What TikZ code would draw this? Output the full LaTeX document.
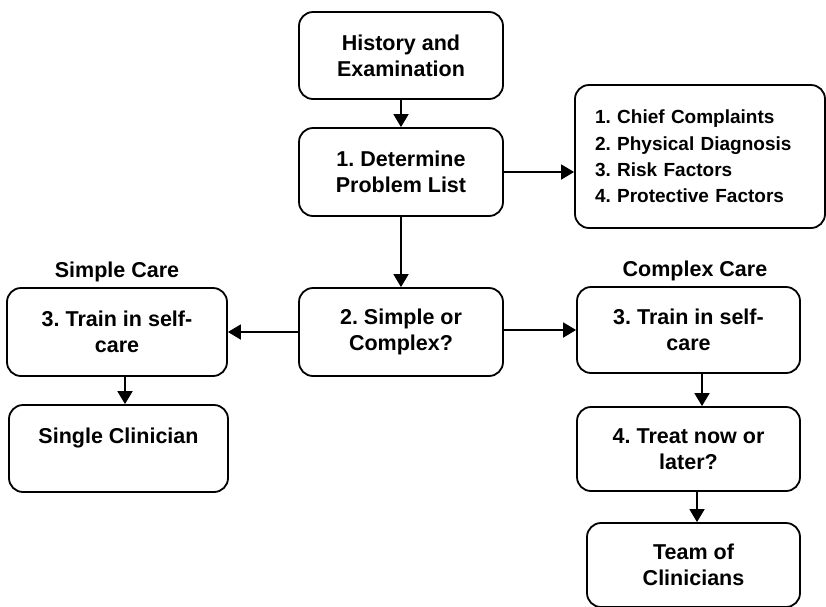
\documentclass[tikz,border=0pt]{standalone}
\usepackage{fontspec}
\setmainfont{Liberation Sans}
\usetikzlibrary{arrows.meta,calc}
\frenchspacing
\begin{document}
\begin{tikzpicture}[x=1pt,y=-1pt,
  box/.style={draw=black,line width=1.8pt,rounded corners=14pt,inner sep=0pt,align=center,
    font=\fontsize{21.5}{26}\selectfont\bfseries},
  lbl/.style={font=\fontsize{21.5}{26}\selectfont\bfseries},
  conn/.style={line width=1.8pt,-{Triangle[length=13pt,width=15pt]}}]
\useasboundingbox (0,0) rectangle (826,606);
\clip (0,0) rectangle (826,606);
% nodes
\node[box,minimum width=204pt,minimum height=87pt] (hist) at (401,55.5) {History and\\Examination};
\node[box,minimum width=204pt,minimum height=88pt] (det) at (401,172) {1. Determine\\Problem List};
\node[box,minimum width=250pt,minimum height=143pt,text width=210pt,align=left,
  font=\fontsize{19}{26.3}\selectfont\bfseries] (list) at (700,156.5)
  {1. Chief Complaints\\2. Physical Diagnosis\\3. Risk Factors\\4. Protective Factors};
\node[box,minimum width=204pt,minimum height=88pt] (sc) at (401,332) {2. Simple or\\Complex?};
\node[box,minimum width=220pt,minimum height=88pt] (l3) at (117,332) {3. Train in self-\\care};
\node[box,minimum width=219pt,minimum height=87pt] (single) at (118.5,448.5) {Single Clinician\\\mbox{}};
\node[box,minimum width=223pt,minimum height=86pt] (r3) at (688.5,330) {3. Train in self-\\care};
\node[box,minimum width=223pt,minimum height=84pt] (r4) at (688.5,449) {4. Treat now or\\later?};
\node[box,minimum width=213pt,minimum height=84pt] (team) at (693.5,565) {Team of\\Clinicians};
\node[lbl] (simplelbl) at (117,272) {Simple Care};
\node[lbl] (complexlbl) at (695,271) {Complex Care};
% connectors
\draw[conn] (hist.south) -- (det.north);
\draw[conn] (det.east) -- (det.east -| list.west);
\draw[conn] (det.south) -- (sc.north);
\draw[conn] (sc.west) -- (sc.west -| l3.east);
\draw[conn] ([yshift=2pt]sc.east) -- ([yshift=2pt]sc.east -| r3.west);
\draw[conn] ([xshift=8pt]l3.south) -- ([xshift=8pt]l3.south |- single.north);
\draw[conn] ([xshift=13.5pt]r3.south) -- ([xshift=13.5pt]r3.south |- r4.north);
\draw[conn] ([xshift=8.5pt]r4.south) -- ([xshift=8.5pt]r4.south |- team.north);
\end{tikzpicture}
\end{document}
